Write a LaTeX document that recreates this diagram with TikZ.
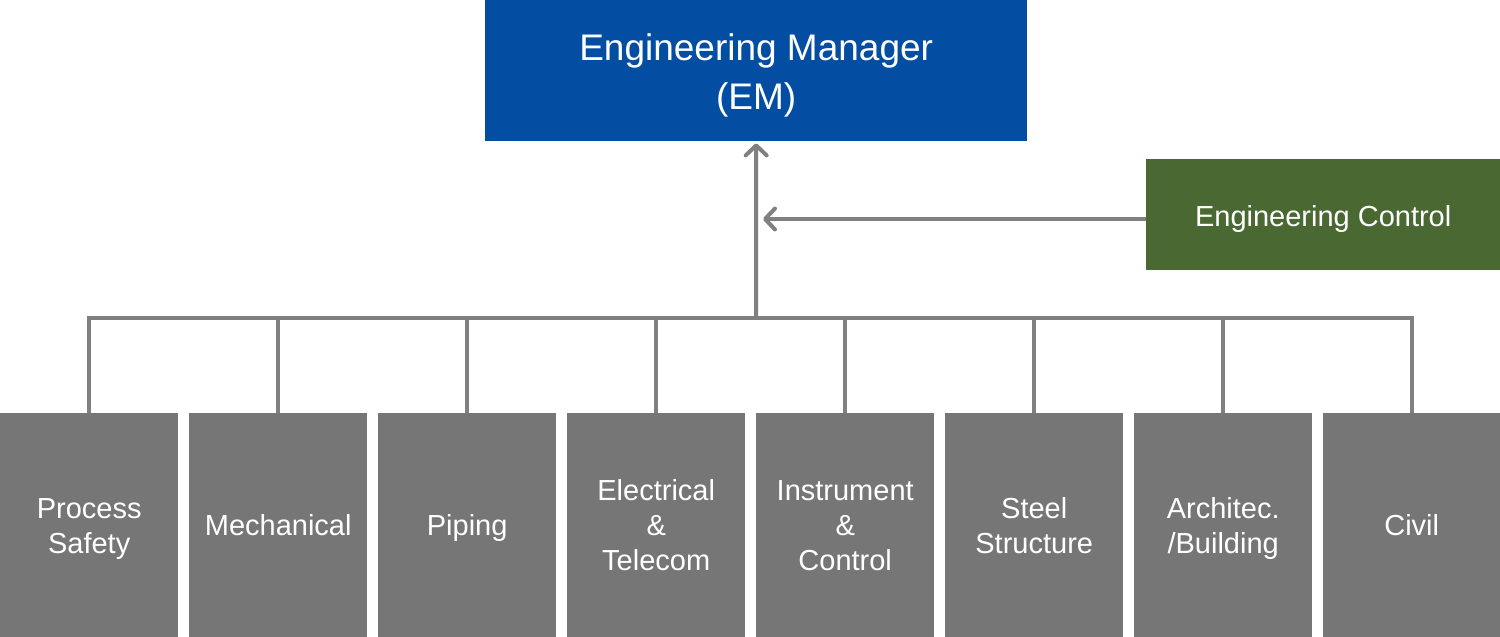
\documentclass[tikz,border=0pt]{standalone}
\usepackage{fontspec}
\setmainfont{Liberation Sans}
\usetikzlibrary{arrows.meta}
\definecolor{emblue}{HTML}{034EA2}
\definecolor{ctrlgreen}{HTML}{4A6932}
\definecolor{boxgray}{HTML}{767676}
\definecolor{linegray}{HTML}{808080}
\newcommand\bs{\rule[-7pt]{0pt}{35pt}}
\newcommand\cs{\rule[-5.6pt]{0pt}{35pt}}
\newcommand\es{\rule[-9.75pt]{0pt}{49pt}}
\begin{document}
\begin{tikzpicture}[x=1pt,y=-1pt,
  box/.style={fill=boxgray,text=white,minimum width=178pt,minimum height=224pt,inner sep=0pt,anchor=north west,align=center,font=\fontsize{29}{35}\selectfont},
  conn/.style={draw=linegray,line width=4pt},
  arr/.style={conn,-{Straight Barb[length=10pt,width=21pt,line cap=round,line join=round]}}]
\useasboundingbox (0,0) rectangle (1500,637);
\node[fill=emblue,text=white,minimum width=542pt,minimum height=141pt,inner sep=0pt,anchor=north west,align=center,font=\fontsize{37}{49}\selectfont] (em) at (485,0) {\es Engineering Manager\\(EM)\es};
\node[fill=ctrlgreen,text=white,minimum width=354pt,minimum height=111pt,inner sep=0pt,anchor=north west,font=\fontsize{29}{35}\selectfont] (ctrl) at (1146,159) {\cs Engineering Control};
\node[box] (b1) at (0,413) {\bs Process\\Safety\bs};
\node[box] (b2) at (189,413) {\bs Mechanical\bs};
\node[box] (b3) at (378,413) {\bs Piping\bs};
\node[box] (b4) at (567,413) {\bs Electrical\\\&\\Telecom\bs};
\node[box] (b5) at (756,413) {\bs Instrument\\\&\\Control\bs};
\node[box] (b6) at (945,413) {\bs Steel\\Structure\bs};
\node[box] (b7) at (1134,413) {\bs Architec.\\/Building\bs};
\node[box, minimum width=177pt] (b8) at (1323,413) {\bs Civil\bs};
\coordinate (hub) at (756,318);
\coordinate (ctrlin) at (1146,219);
\coordinate (ctrltip) at (763,219);
\draw[arr, shorten >=2pt] (hub) -- (em.south);
\draw[arr] (ctrlin) -- (ctrltip);
\draw[conn] (b1.north) |- (b8.north |- hub) -- (b8.north);
\foreach \b in {b2,b3,b4,b5,b6,b7}
  \draw[conn] (\b.north) -- (\b.north |- hub);
\end{tikzpicture}
\end{document}
